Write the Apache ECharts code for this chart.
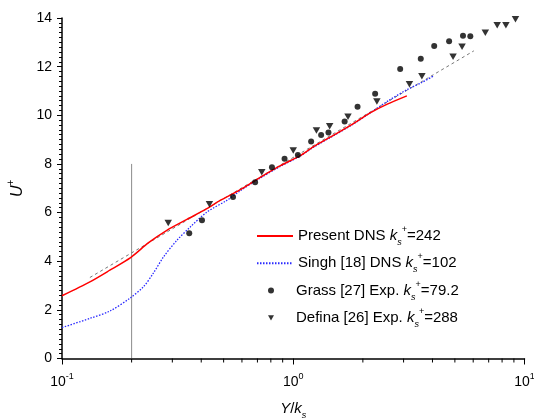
<!DOCTYPE html>
<html><head><meta charset="utf-8">
<script src="https://cdn.jsdelivr.net/npm/echarts@6/dist/echarts.min.js"></script>
<style>html,body{margin:0;padding:0;background:#fff}#c{width:534px;height:419px}</style>
</head><body><div id="c"></div>
<script>
// Present DNS ks+=242
const presentX = [0.1, 0.132, 0.161, 0.198, 0.236, 0.284, 0.347, 0.423, 0.483, 0.59, 0.72, 0.88, 1.07, 1.22, 1.445, 1.82, 2.15, 2.55, 3.1];
const presentY = [2.58, 3.15, 3.63, 4.15, 4.75, 5.27, 5.72, 6.16, 6.5, 6.94, 7.45, 7.93, 8.34, 8.7, 9.1, 9.66, 10.1, 10.46, 10.8];
// Singh [18] DNS ks+=102
const singhX = [0.1, 0.132, 0.161, 0.198, 0.225, 0.248, 0.275, 0.314, 0.358, 0.423, 0.516, 0.59, 0.72, 0.88, 1.07, 1.22, 1.445, 1.82, 2.15, 2.6, 3.1, 3.6, 4.05];
const singhY = [1.27, 1.65, 1.95, 2.5, 2.95, 3.5, 4.18, 4.86, 5.4, 6.02, 6.5, 6.9, 7.42, 7.9, 8.32, 8.68, 9.08, 9.64, 10.1, 10.62, 11.05, 11.35, 11.62];
// log-law reference line
const logLawX = [0.132, 6.04];
const logLawY = [3.33, 12.65];
// Grass [27] Exp. ks+=79.2
const grassX = [0.355, 0.403, 0.549, 0.684, 0.809, 0.917, 1.047, 1.195, 1.32, 1.42, 1.668, 1.897, 2.26, 2.90, 3.56, 4.07, 4.72, 5.42, 5.83];
const grassY = [5.15, 5.68, 6.64, 7.25, 7.86, 8.21, 8.37, 8.92, 9.19, 9.29, 9.74, 10.35, 10.89, 11.9, 12.32, 12.85, 13.04, 13.27, 13.25];
// Defina [26] Exp. ks+=288
const definaX = [0.288, 0.434, 0.731, 1.0, 1.26, 1.437, 1.725, 2.30, 3.18, 3.6, 4.91, 5.37, 6.77, 7.62, 8.31, 9.14];
const definaY = [5.57, 6.34, 7.66, 8.55, 9.37, 9.55, 9.94, 10.57, 11.28, 11.61, 12.41, 12.82, 13.39, 13.7, 13.7, 13.95];
// vertical marker at Y/ks = 0.2
const vLineX = [0.2, 0.2];
const vLineY = [0, 8];
// x minor tick positions
const xMinorTicks = [0.2, 0.3, 0.4, 0.5, 0.6, 0.7, 0.8, 0.9, 2, 3, 4, 5, 6, 7, 8, 9];

const zip = (a, b) => a.map((v, i) => [v, b[i]]);
const FONT = "'Liberation Sans', Arial, sans-serif";

const legendNames = {
  'Present': '{t|Present DNS }{i|k}{sub|s}{sup|+}{t|=242}',
  'Singh': '{t|Singh [18] DNS }{i|k}{sub|s}{sup|+}{t|=102}',
  'Grass': '{gap|}{t|Grass [27] Exp. }{i|k}{sub|s}{sup|+}{t|=79.2}',
  'Defina': '{gap|}{t|Defina [26] Exp. }{i|k}{sub|s}{sup|+}{t|=288}'
};

const richText = {
  gap: {width: 17, lineHeight: 22},
  t: {fontSize: 15, fontFamily: FONT, color: '#000', lineHeight: 22},
  i: {fontSize: 15, fontFamily: FONT, fontStyle: 'italic', color: '#000', lineHeight: 22},
  sub: {fontSize: 9, fontFamily: FONT, fontStyle: 'italic', color: '#000', lineHeight: 9, verticalAlign: 'bottom'},
  sup: {fontSize: 9, fontFamily: FONT, color: '#000', lineHeight: 9, verticalAlign: 'top'}
};

const chart = echarts.init(document.getElementById('c'), null, {renderer: 'canvas'});
chart.setOption({
  animation: false,
  backgroundColor: '#fff',
  grid: {left: 62, right: 9.5, top: 18, bottom: 60.5, containLabel: false, outerBoundsMode: 'none'},
  xAxis: {
    type: 'log', logBase: 10, min: 0.1, max: 10,
    axisLine: {lineStyle: {color: '#000', width: 1.5}},
    axisTick: {inside: false, length: 6, lineStyle: {color: '#000', width: 1}},
    splitLine: {show: false},
    axisLabel: {
      margin: 14,
      formatter: v => '{b|10}{s|' + Math.round(Math.log10(v)) + '}',
      rich: {
        b: {fontSize: 14, fontFamily: FONT, color: '#000', lineHeight: 20},
        s: {fontSize: 9, fontFamily: FONT, color: '#000', lineHeight: 9, verticalAlign: 'top'}
      }
    },
    name: '{i|Y}{t|/}{i|k}{sub|s}',
    nameLocation: 'middle',
    nameGap: 39,
    nameTextStyle: {rich: {
      t: {fontSize: 15, fontFamily: FONT, color: '#000', lineHeight: 22},
      i: {fontSize: 15, fontFamily: FONT, fontStyle: 'italic', color: '#000', lineHeight: 22},
      sub: {fontSize: 9, fontFamily: FONT, fontStyle: 'italic', color: '#000', lineHeight: 9, verticalAlign: 'bottom'}
    }}
  },
  yAxis: {
    type: 'value', min: 0, max: 14, interval: 2,
    axisLine: {show: true, lineStyle: {color: '#000', width: 1.5}},
    axisTick: {show: true, inside: false, length: 5, lineStyle: {color: '#000', width: 1}},
    minorTick: {show: true, splitNumber: 10, length: 3, lineStyle: {color: '#000', width: 1}},
    splitLine: {show: false},
    minorSplitLine: {show: false},
    axisLabel: {margin: 10, fontSize: 14, fontFamily: FONT, color: '#000'},
    name: '{i|U}{sup|+}',
    nameLocation: 'middle',
    nameRotate: 90,
    nameGap: 31,
    nameTextStyle: {rich: {
      i: {fontSize: 16, fontFamily: FONT, fontStyle: 'italic', color: '#000', lineHeight: 22},
      sup: {fontSize: 10, fontFamily: FONT, color: '#000', lineHeight: 10, verticalAlign: 'top'}
    }}
  },
  legend: [
    {
      orient: 'vertical',
      left: 256, top: 225, padding: 0,
      itemWidth: 36, itemHeight: 6,
      itemGap: 5.3,
      data: [
        {name: 'Present', itemStyle: {opacity: 0}},
        {name: 'Singh', itemStyle: {opacity: 0}}
      ],
      formatter: name => legendNames[name],
      textStyle: {rich: richText, fontFamily: FONT, fontSize: 15, color: '#000'},
      selectedMode: false
    },
    {
      orient: 'vertical',
      left: 268, top: 279.6, padding: 0,
      itemWidth: 6, itemHeight: 6,
      itemGap: 5.3,
      data: [
        {name: 'Grass', icon: 'circle'},
        {name: 'Defina', icon: 'path://M0,0 L10,0 L5,9 Z'}
      ],
      formatter: name => legendNames[name],
      textStyle: {rich: richText, fontFamily: FONT, fontSize: 15, color: '#000'},
      selectedMode: false
    }
  ],
  series: [
    {
      name: 'vline', type: 'line', data: zip(vLineX, vLineY),
      symbol: 'none', silent: true,
      lineStyle: {color: '#8c8c8c', width: 1}, z: 1
    },
    {
      name: 'loglaw', type: 'line', data: zip(logLawX, logLawY),
      symbol: 'none', silent: true,
      lineStyle: {color: '#777', width: 1, type: [3, 3]}, z: 2
    },
    {
      name: 'Singh', type: 'line', data: zip(singhX, singhY),
      symbol: 'none', smooth: 0.3,
      lineStyle: {color: '#2a2aff', width: 1.3, type: [1.5, 1.5]}, itemStyle: {color: '#2a2aff'}, z: 3
    },
    {
      name: 'Present', type: 'line', data: zip(presentX, presentY),
      symbol: 'none', smooth: 0.25,
      lineStyle: {color: '#ff0000', width: 1.5}, itemStyle: {color: '#ff0000'}, z: 4
    },
    {
      name: 'Grass', type: 'scatter', data: zip(grassX, grassY),
      symbol: 'circle', symbolSize: 6,
      itemStyle: {color: '#000'}, z: 5
    },
    {
      name: 'Defina', type: 'scatter', data: zip(definaX, definaY),
      symbol: 'triangle', symbolRotate: 180, symbolSize: [7.5, 6.5],
      itemStyle: {color: '#000'}, z: 5
    },
    {
      name: 'xminor', type: 'custom', silent: true,
      data: xMinorTicks.map(v => [v, 0]),
      renderItem: (params, api) => {
        const p = api.coord([api.value(0), 0]);
        return {type: 'line', shape: {x1: p[0], y1: p[1], x2: p[0], y2: p[1] + 4},
                style: {stroke: '#000', lineWidth: 1}};
      },
      z: 6
    }
  ]
});
</script>
</body></html>
